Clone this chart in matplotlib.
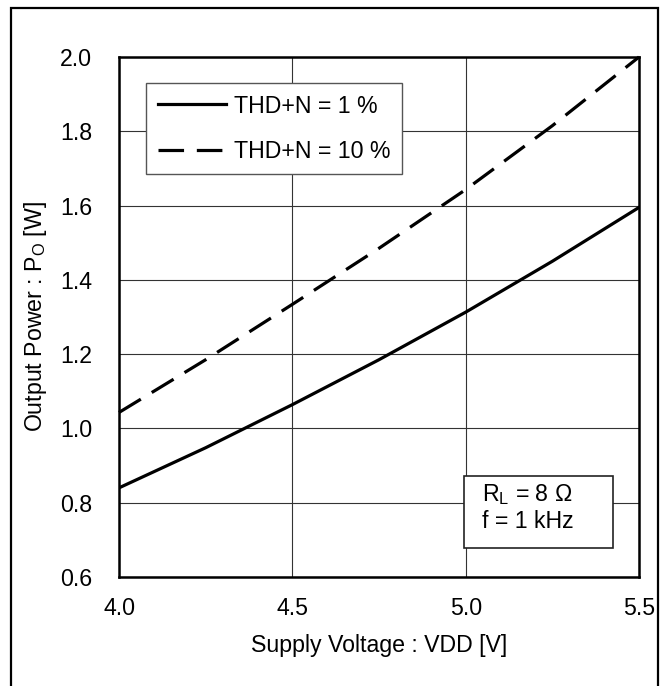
import matplotlib
matplotlib.use('Agg')
import matplotlib.pyplot as plt
from matplotlib.patches import Rectangle

vdd = [4.0, 4.25, 4.5, 4.75, 5.0, 5.25, 5.5]
po_thd1 = [0.84, 0.948, 1.064, 1.185, 1.313, 1.45, 1.595]
po_thd10 = [1.043, 1.185, 1.334, 1.485, 1.643, 1.815, 2.0]
x_ticks = [4.0, 4.5, 5.0, 5.5]
y_ticks = [0.6, 0.8, 1.0, 1.2, 1.4, 1.6, 1.8, 2.0]

plt.rcParams['font.family'] = ['Liberation Sans', 'DejaVu Sans']
plt.rcParams['font.size'] = 16.7
plt.rcParams['mathtext.fontset'] = 'custom'
plt.rcParams['mathtext.rm'] = 'Liberation Sans'
plt.rcParams['mathtext.it'] = 'Liberation Sans:italic'

W, H = 666, 686
fig = plt.figure(figsize=(W / 100, H / 100), dpi=100)

# outer frame round the whole picture
fig.patches.append(Rectangle((11 / W, -0.01), (658 - 11) / W, 1 - 8 / H + 0.01,
                             transform=fig.transFigure, fill=False,
                             edgecolor='black', linewidth=1.6))

left, right, top, bottom = 119, 639, 57, 577
ax = fig.add_axes([left / W, (H - bottom) / H, (right - left) / W, (bottom - top) / H])

ax.plot(vdd, po_thd1, color='black', lw=2.3, label='THD+N = 1 %')
ax.plot(vdd, po_thd10, color='black', lw=2.3, linestyle=(0, (8, 4)),
        dash_capstyle='butt', label='THD+N = 10 %', clip_on=False)

ax.set_xlim(4.0, 5.5)
ax.set_ylim(0.6, 2.0)
ax.set_xticks(x_ticks)
ax.set_yticks(y_ticks)
ax.set_xticklabels([f'{v:.1f}' for v in x_ticks])
ax.set_yticklabels([f'{v:.1f}' for v in y_ticks])
ax.tick_params(axis='y', length=0, pad=19.5)
ax.tick_params(axis='x', length=0, pad=14.5)
ax.grid(True, color='#333333', lw=0.8)
for s in ax.spines.values():
    s.set_linewidth(1.8)

leg = ax.legend(loc='upper left', bbox_to_anchor=(0.052, 0.950), borderaxespad=0,
                fancybox=False, framealpha=1, handlelength=2.95, handletextpad=0.35,
                labelspacing=0.95, borderpad=0.5)
leg.get_frame().set_edgecolor('#555555')
leg.get_frame().set_linewidth(1.0)

# condition box
ax.add_patch(Rectangle((0.663, 0.0557), 0.287, 0.138, transform=ax.transAxes,
                       facecolor='white', edgecolor='#222222', lw=1.2, zorder=5))
ax.text(0.698, 0.159, r'R$_\mathrm{L}$ = 8 Ω', transform=ax.transAxes,
        ha='left', va='center', zorder=6)
ax.text(0.698, 0.106, 'f = 1 kHz', transform=ax.transAxes,
        ha='left', va='center', zorder=6)

fig.text(36 / W, 1 - 317 / H, r'Output Power : P$_\mathrm{O}$ [W]', rotation=90,
         ha='center', va='center')
fig.text(379 / W, 1 - 652 / H, 'Supply Voltage : VDD [V]', ha='center', va='baseline')

fig.savefig('out.png', dpi=100)
